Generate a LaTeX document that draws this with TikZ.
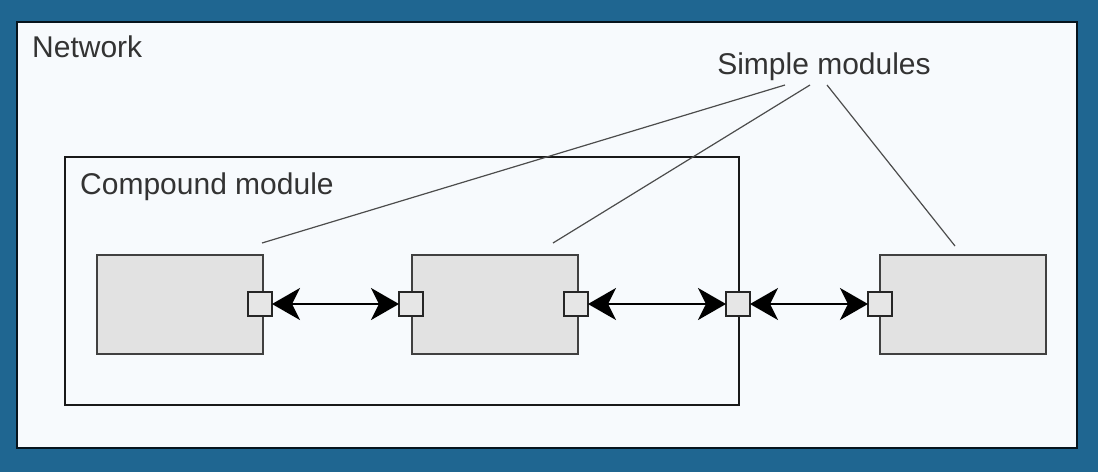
\documentclass[tikz,border=0pt]{standalone}
\usepackage{fontspec}
\setmainfont{Liberation Sans}
\usetikzlibrary{arrows.meta}
\definecolor{bgblue}{HTML}{1F6691}
\definecolor{panel}{HTML}{F7FAFD}
\definecolor{modfill}{HTML}{E2E2E2}
\definecolor{portfill}{HTML}{E6E6E6}
\definecolor{txt}{HTML}{333333}
\tikzset{
  simplemod/.style={draw=black!75, line width=1.5pt, fill=modfill, minimum width=166pt, minimum height=99pt, inner sep=0pt},
  port/.style={draw=black!85, line width=2pt, fill=portfill, minimum size=24pt, inner sep=0pt},
  conn/.style={line width=2.5pt, {Stealth[length=28pt,width=32pt,inset=8pt]}-{Stealth[length=28pt,width=32pt,inset=8pt]}, shorten <=-1pt, shorten >=-1pt},
  pointer/.style={draw=black!70, line width=1.2pt},
  lbl/.style={text=txt, font=\fontsize{30}{36}\selectfont, inner sep=0pt}
}
\begin{document}
\begin{tikzpicture}[x=1pt,y=-1pt]
\useasboundingbox (0,0) rectangle (1098,472);
\fill[bgblue] (0,0) rectangle (1098,472);
\draw[draw=black!80!bgblue, line width=2pt, fill=panel] (17,22) rectangle (1077,448);
\node[lbl, anchor=base west] (net) at (32,57) {Network};
\draw[line width=2.8pt, draw=black!90] (65,157) rectangle (739,405);
\node[lbl, anchor=base west] (cmp) at (80,194) {Compound module};
\node[simplemod, anchor=north west] (A) at (96,254) {};
\node[simplemod, anchor=north west] (B) at (411,254) {};
\node[simplemod, anchor=north west] (C) at (879,254) {};
\node[port] (pa) at (260,304) {};
\node[port] (pb1) at (411,304) {};
\node[port] (pb2) at (576,304) {};
\node[port] (pc) at (738,304) {};
\node[port] (pd) at (880,304) {};
\draw[conn] (pa) -- (pb1);
\draw[conn] (pb2) -- (pc);
\draw[conn] (pc) -- (pd);
\node[lbl, anchor=base] (sm) at (824,74) {Simple modules};
\coordinate (t1) at (785,85);
\coordinate (t2) at (810,85);
\coordinate (t3) at (827,85);
\coordinate (e1) at (262,243);
\coordinate (e2) at (553,243);
\coordinate (e3) at (955,246);
\draw[pointer] (t1) -- (e1);
\draw[pointer] (t2) -- (e2);
\draw[pointer] (t3) -- (e3);
\end{tikzpicture}
\end{document}
